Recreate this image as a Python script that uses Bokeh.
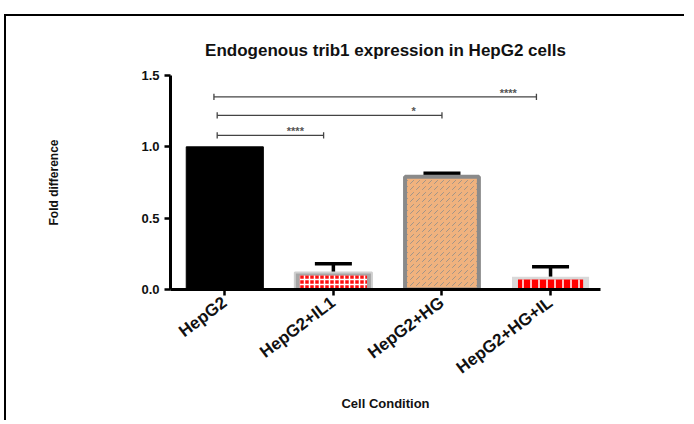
import math
from bokeh.plotting import figure
from bokeh.models import (Range1d, FixedTicker, Whisker, TeeHead, ColumnDataSource,
                          NumeralTickFormatter)
from bokeh.embed import file_html
from bokeh.resources import INLINE
from bokeh.core.properties import value

# ---- data ----
categories = ["HepG2", "HepG2+IL1", "HepG2+HG", "HepG2+HG+IL"]
fold = [1.0, 0.12, 0.79, 0.09]
sem = [0.0, 0.06, 0.025, 0.07]
y_ticks = [0.0, 0.5, 1.0, 1.5]
cmp_from = [0, 0, 0]
cmp_to = [1, 2, 3]
cmp_level = [1.08, 1.22, 1.35]
cmp_label = ["****", "*", "****"]

# ---- style-only offsets for bracket ends ----
left_off = [-0.07, -0.07, -0.10]
right_off = [-0.09, 0.0, -0.13]

xs = list(range(len(categories)))
FONT = "Liberation Sans"

p = figure(width=680, height=406, output_backend="svg", toolbar_location=None,
           x_range=Range1d(-0.5, 3.46), y_range=Range1d(0, 1.5),
           min_border_left=164, min_border_right=86, min_border_top=59,
           min_border_bottom=133)
p.styles = {"margin-top": "14px", "margin-left": "4px",
            "border-top": "2px solid black", "border-left": "2px solid black"}
p.outline_line_color = None
p.xgrid.visible = False
p.ygrid.visible = False

# title
p.title.text = "Endogenous trib1 expression in HepG2 cells"
p.title.align = "center"
p.title.text_font = FONT
p.title.text_font_size = "17px"
p.title.text_font_style = "bold"
p.title.text_color = "#111111"
p.title.standoff = 31

# bars
W = 0.71
p.vbar(x=[xs[0]], top=[fold[0]], bottom=0, width=W, fill_color="black",
       line_color="black")
# HepG2+IL1 : grey box with red checker
p.vbar(x=[xs[1]], top=[fold[1]], bottom=0, width=W, fill_color="#a6a6a6",
       line_color="#cfcfcf", line_width=2)
p.vbar(x=[xs[1]], top=[fold[1] - 0.022], bottom=0.006, width=W - 0.09,
       fill_color="#ff1010", line_color=None, hatch_pattern="cross",
       hatch_color="white", hatch_scale=5, hatch_weight=1.5)
# HepG2+HG : tan with grey diagonal pattern
p.vbar(x=[xs[2]], top=[fold[2]], bottom=0, width=W - 0.03, fill_color="#f0b27e",
       line_color="#8a8a8a", line_width=4, hatch_pattern="right_diagonal_dash",
       hatch_color="#a09488", hatch_scale=6, hatch_weight=1)
# HepG2+HG+IL : light grey with red blocks
p.vbar(x=[xs[3]], top=[fold[3]], bottom=0, width=W, fill_color="#d9d9d9",
       line_color=None)
p.vbar(x=[xs[3]], top=[fold[3] - 0.02], bottom=0.006, width=W - 0.11,
       fill_color="#ff0000", line_color=None, hatch_pattern="vertical_line",
       hatch_color="white", hatch_scale=8, hatch_weight=1.5)

# error bars (upper only)
ex = [x for x, e in zip(xs, sem) if e > 0]
elo = [f for f, e in zip(fold, sem) if e > 0]
ehi = [f + e for f, e in zip(fold, sem) if e > 0]
esrc = ColumnDataSource(dict(x=ex, lower=elo, upper=ehi))
p.add_layout(Whisker(source=esrc, base="x", lower="lower", upper="upper",
                     line_width=3.5, line_color="black",
                     upper_head=TeeHead(size=37, line_width=3.5, line_color="black"),
                     lower_head=None))

# significance brackets
bx0 = [xs[a] + o for a, o in zip(cmp_from, left_off)]
bx1 = [xs[b] + o for b, o in zip(cmp_to, right_off)]
p.segment(x0=bx0, x1=bx1, y0=cmp_level, y1=cmp_level, line_color="#444444",
          line_width=1.3)
tick = 0.022
p.segment(x0=bx0, x1=bx0, y0=[l - tick for l in cmp_level],
          y1=[l + tick for l in cmp_level], line_color="#444444", line_width=1.3)
p.segment(x0=bx1, x1=bx1, y0=[l - tick for l in cmp_level],
          y1=[l + tick for l in cmp_level], line_color="#444444", line_width=1.3)
p.text(x=[b - 0.26 for b in bx1], y=cmp_level, text=cmp_label,
       text_font=value(FONT), text_font_size="11px", text_font_style="bold",
       text_color="#555555", text_align="center", text_baseline="middle",
       y_offset=-4)

# axes
p.yaxis.ticker = FixedTicker(ticks=y_ticks)
p.yaxis.formatter = NumeralTickFormatter(format="0.0")
p.yaxis.minor_tick_line_color = None
p.xaxis.ticker = FixedTicker(ticks=xs)
p.xaxis.major_label_overrides = {x: c for x, c in zip(xs, categories)}
p.xaxis.minor_tick_line_color = None
p.xaxis.major_label_orientation = math.radians(37)
for ax in (p.xaxis, p.yaxis):
    ax.axis_line_width = 3
    ax.axis_line_color = "black"
    ax.major_tick_line_width = 2.5
    ax.major_tick_in = 0
    ax.major_tick_out = 6
    ax.major_label_text_font = FONT
    ax.major_label_text_font_style = "bold"
    ax.major_label_text_font_size = "17px"
    ax.major_label_text_color = "#111111"
    ax.axis_label_text_font = FONT
    ax.axis_label_text_font_style = "bold"
    ax.axis_label_text_color = "#111111"
p.yaxis.major_label_text_font_size = "13px"
p.yaxis.axis_label = "Fold difference"
p.yaxis.axis_label_text_font_size = "12px"
p.yaxis.axis_label_standoff = 77
p.xaxis.axis_label = "Cell Condition"
p.xaxis.axis_label_text_font_size = "13px"
p.xaxis.axis_label_standoff = 8

open("out.html", "w").write(file_html(p, INLINE))
